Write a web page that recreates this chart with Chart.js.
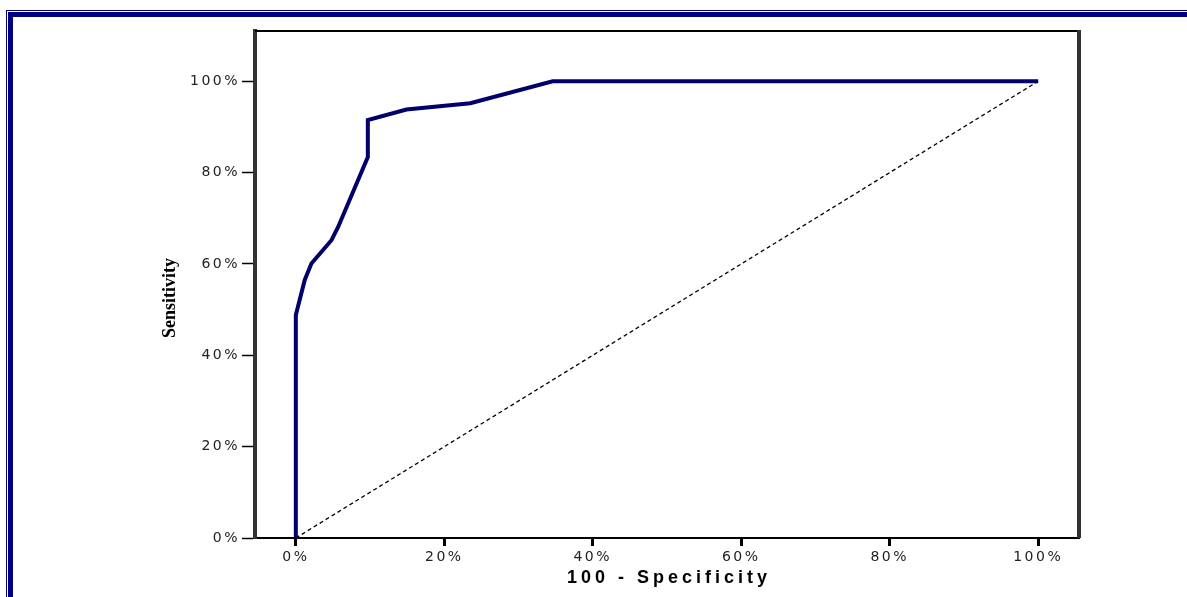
<!DOCTYPE html>
<html>
<head>
<meta charset="utf-8">
<script src="https://cdn.jsdelivr.net/npm/chart.js@4.4.0/dist/chart.umd.min.js"></script>
<style>
  html, body { margin: 0; padding: 0; background: #fff; }
  #wrap { position: relative; width: 1187px; height: 597px; overflow: hidden; }
  .frame1 { position: absolute; left: 6px; top: 10px; right: -10px; bottom: -10px; border-left: 1px solid #000080; border-top: 1px solid #000080; }
  .frame2 { position: absolute; left: 8px; top: 12px; right: -10px; bottom: -10px; border-left: 5px solid #000080; border-top: 5px solid #000080; }
</style>
</head>
<body>
<div id="wrap">
  <canvas id="roc-chart" width="1187" height="597"></canvas>
  <div class="frame1"></div>
  <div class="frame2"></div>
</div>
<script>
// ROC curve (percent)
const falsePositive = [0, 0, 1.2, 2.1, 4.8, 5.7, 9.7, 9.7, 14.9, 23.5, 34.6, 100];
const sensitivity = [0, 48.8, 56.5, 60.1, 65.2, 68.1, 83.4, 91.5, 93.8, 95.2, 100, 100];
const chanceX = [0, 100];
const chanceY = [0, 100];
const xTicks = [0, 20, 40, 60, 80, 100];
const yTicks = [0, 20, 40, 60, 80, 100];
const xTitle = '100 - Specificity';
const yTitle = 'Sensitivity';

const rocPoints = falsePositive.map((x, i) => ({ x: x, y: sensitivity[i] }));
const chancePoints = chanceX.map((x, i) => ({ x: x, y: chanceY[i] }));

// tick labels in the original are drawn wide, titles are drawn by hand
const axisText = {
  id: 'axisText',
  beforeDraw(chart) {
    chart.ctx.letterSpacing = '2.5px';
  },
  afterDraw(chart) {
    const ctx = chart.ctx;
    const area = chart.chartArea;
    ctx.save();
    // top and right edges of the plot box
    ctx.strokeStyle = '#000';
    ctx.lineWidth = 2;
    ctx.beginPath();
    ctx.moveTo(area.left, area.top);
    ctx.lineTo(area.right, area.top);
    ctx.stroke();
    ctx.strokeStyle = '#333';
    ctx.lineWidth = 4;
    ctx.beginPath();
    ctx.moveTo(area.right, area.top - 1);
    ctx.lineTo(area.right, area.bottom);
    ctx.stroke();

    ctx.fillStyle = '#000';
    ctx.letterSpacing = '4px';
    ctx.font = 'bold 18px "Liberation Sans"';
    ctx.textAlign = 'center';
    ctx.textBaseline = 'middle';
    ctx.fillText(xTitle, (area.left + area.right) / 2 + 2, area.bottom + 40);

    ctx.letterSpacing = '0px';
    ctx.font = 'bold 18px "Liberation Serif"';
    ctx.translate(170, 298);
    ctx.rotate(-Math.PI / 2);
    ctx.fillText(yTitle, 0, 0);
    ctx.restore();
    ctx.letterSpacing = '2.5px';
  }
};

const ctx = document.getElementById('roc-chart').getContext('2d');
const rocChart = new Chart(ctx, {
  type: 'scatter',
  data: {
    datasets: [
      {
        label: 'ROC',
        data: rocPoints,
        showLine: true,
        borderColor: '#00006a',
        borderWidth: 4,
        pointRadius: 0,
        tension: 0,
        borderJoinStyle: 'miter',
      },
      {
        label: 'Reference',
        data: chancePoints,
        showLine: true,
        borderColor: '#000',
        borderWidth: 1.3,
        borderDash: [4, 3],
        pointRadius: 0,
      },
    ],
  },
  options: {
    responsive: false,
    animation: false,
    layout: { padding: { top: 31, right: 108, left: 0, bottom: 0 } },
    plugins: { legend: { display: false }, tooltip: { enabled: false } },
    scales: {
      x: {
        type: 'linear',
        min: -5.5,
        max: 105.5,
        afterBuildTicks: (scale) => { scale.ticks = xTicks.map((v) => ({ value: v })); },
        afterFit: (scale) => { scale.height = 59; },
        grid: { drawOnChartArea: false, drawTicks: true, tickLength: 8, tickWidth: 3, tickColor: '#000' },
        border: { color: '#000', width: 2 },
        ticks: {
          padding: 3,
          color: '#222',
          font: { family: 'DejaVu Sans', size: 14 },
          callback: (v) => v + '%',
        },
      },
      y: {
        type: 'linear',
        min: 0,
        max: 111,
        afterBuildTicks: (scale) => { scale.ticks = yTicks.map((v) => ({ value: v })); },
        afterFit: (scale) => { scale.width = 255; },
        grid: { drawOnChartArea: false, drawTicks: true, tickLength: 13, tickWidth: 1.5, tickColor: '#000' },
        border: { color: '#333', width: 4 },
        ticks: {
          padding: 2,
          color: '#222',
          font: { family: 'DejaVu Sans', size: 14 },
          callback: (v) => v + '%',
        },
      },
    },
  },
  plugins: [axisText],
});
</script>
</body>
</html>
